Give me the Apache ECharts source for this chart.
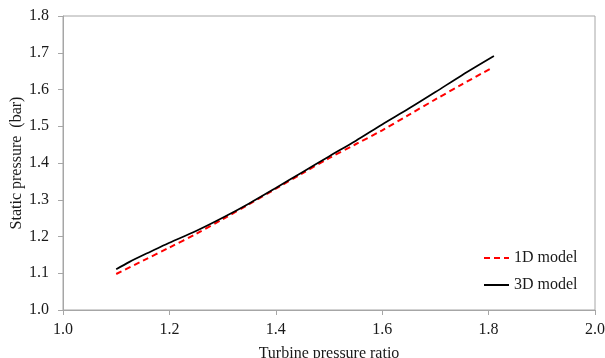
<!DOCTYPE html>
<html>
<head>
<meta charset="utf-8">
<script src="https://cdn.jsdelivr.net/npm/echarts@6/dist/echarts.min.js"></script>
<style>
html,body{margin:0;padding:0;background:#fff;}
#chart{width:605px;height:358px;}
</style>
</head>
<body>
<div id="chart"></div>
<script>
const xTitle = "Turbine pressure ratio";
const yTitle = "Static pressure  (bar)";
const seriesNames = ["1D model", "3D model"];

const x1D = [1.10, 1.15, 1.20, 1.25, 1.30, 1.35, 1.40, 1.45, 1.50, 1.55, 1.60, 1.65, 1.70, 1.75, 1.805];
const y1D = [1.098, 1.134, 1.170, 1.207, 1.247, 1.288, 1.330, 1.372, 1.413, 1.451, 1.489, 1.531, 1.573, 1.614, 1.658];

const x3D = [1.10, 1.125, 1.15, 1.175, 1.20, 1.25, 1.30, 1.35, 1.40, 1.45, 1.50, 1.55, 1.60, 1.65, 1.70, 1.75, 1.81];
const y3D = [1.111, 1.131, 1.149, 1.166, 1.183, 1.215, 1.251, 1.290, 1.332, 1.375, 1.418, 1.460, 1.505, 1.548, 1.593, 1.639, 1.691];

const font = "Liberation Serif";
const textColor = "#1a1a1a";
const axisColor = "#a6a6a6";

const zip = (xs, ys) => xs.map((x, i) => [x, ys[i]]);

const chart = echarts.init(document.getElementById('chart'), null, {renderer: 'canvas'});
chart.setOption({
  animation: false,
  backgroundColor: '#fff',
  grid: {left: 63, right: 10, top: 16, bottom: 48, containLabel: false, outerBoundsMode: 'none',
         show: true, borderColor: axisColor, borderWidth: 1, backgroundColor: 'transparent'},
  legend: {
    orient: 'vertical',
    left: 483, top: 250, padding: 0,
    itemWidth: 25, itemHeight: 14, itemGap: 11,
    itemStyle: {color: 'transparent', borderColor: 'transparent', borderWidth: 0, opacity: 0},
    textStyle: {fontFamily: font, fontSize: 16, color: textColor},
    data: seriesNames
  },
  xAxis: {
    type: 'value', min: 1.0, max: 2.0, interval: 0.2,
    name: xTitle, nameLocation: 'middle', nameGap: 36,
    nameTextStyle: {fontFamily: font, fontSize: 16, color: textColor},
    axisLine: {show: true, lineStyle: {color: axisColor, width: 1}},
    axisTick: {show: true, length: 5, inside: false, lineStyle: {color: axisColor}},
    axisLabel: {fontFamily: font, fontSize: 16, color: textColor, margin: 12, formatter: v => v.toFixed(1)},
    splitLine: {show: false}
  },
  yAxis: {
    type: 'value', min: 1.0, max: 1.8, interval: 0.1,
    name: yTitle, nameLocation: 'middle', nameGap: 38, nameRotate: 90, nameMoveOverlap: false,
    nameTextStyle: {fontFamily: font, fontSize: 16, color: textColor},
    axisLine: {show: true, lineStyle: {color: axisColor, width: 1}},
    axisTick: {show: true, length: 5, inside: false, lineStyle: {color: axisColor}},
    axisLabel: {fontFamily: font, fontSize: 16, color: textColor, margin: 14, formatter: v => v.toFixed(1)},
    splitLine: {show: false}
  },
  series: [
    {
      name: seriesNames[0], type: 'line', data: zip(x1D, y1D),
      smooth: 0.3, symbol: 'none', z: 2,
      lineStyle: {color: '#ff0000', width: 2, type: [6, 4]},
      itemStyle: {color: '#ff0000'}
    },
    {
      name: seriesNames[1], type: 'line', data: zip(x3D, y3D),
      smooth: 0.3, symbol: 'none', z: 3,
      lineStyle: {color: '#000000', width: 1.75, type: 'solid'},
      itemStyle: {color: '#000000'}
    }
  ]
});
</script>
</body>
</html>
